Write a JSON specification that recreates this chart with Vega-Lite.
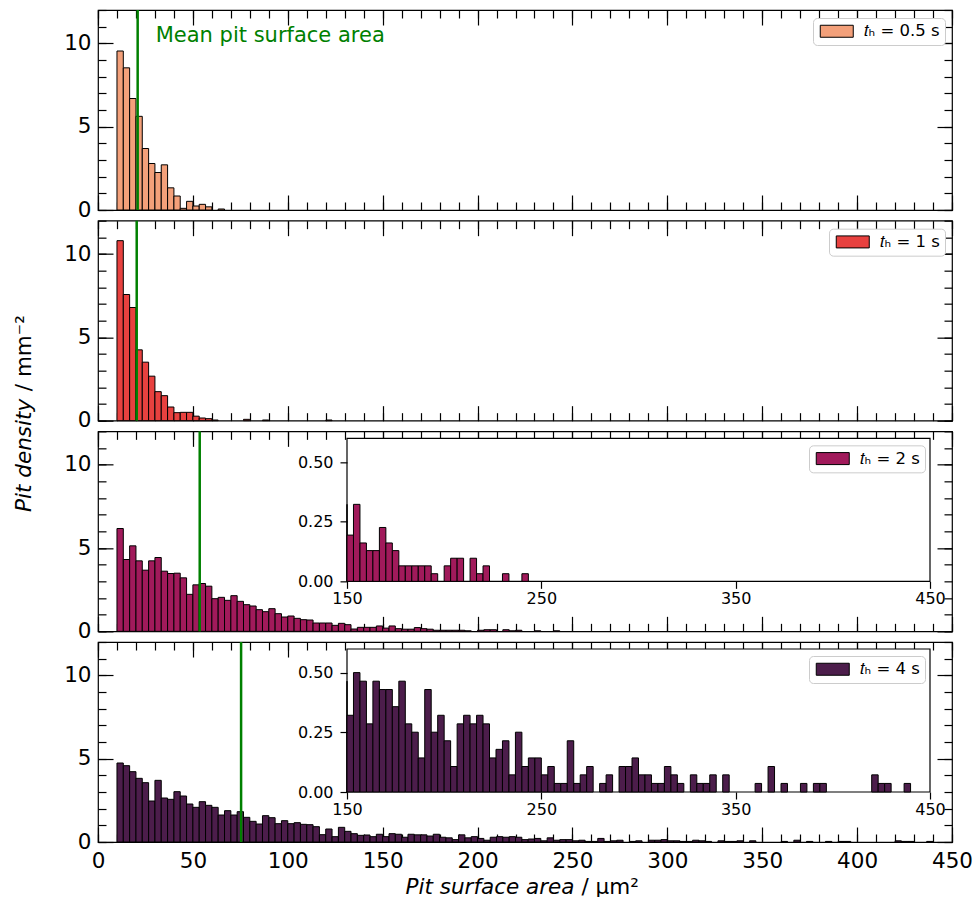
{
"$schema": "https://vega.github.io/schema/vega-lite/v6.json",
"background": "white",
"padding": {"left": 13, "top": 8, "right": 5, "bottom": 5},
"bounds": "flush",
"spacing": 10.67,
"config": {
 "font": "DejaVu Sans",
 "view": {"stroke": "black", "strokeWidth": 1.2},
 "axis": {"domain": false, "grid": false, "labelFlush": false, "tickColor": "black", "tickWidth": 1.2, "labelFontSize": 21.5, "labelColor": "black", "labelFont": "DejaVu Sans", "titleFont": "DejaVu Sans", "titleFontSize": 21.5, "titleColor": "black", "titleFontWeight": "normal", "minExtent": 0, "zindex": 0},
 "legend": {"orient": "top-right", "offset": 7.5, "symbolType": "M-1,-1H4.5V1H-1Z", "symbolSize": 144, "symbolStrokeColor": "black", "symbolStrokeWidth": 1, "labelFontSize": 16.5, "labelOffset": 29, "labelColor": "black", "labelFont": "DejaVu Sans", "padding": 5, "strokeColor": "#cccccc", "fillColor": "white", "cornerRadius": 4, "zindex": 3, "labelLimit": 0}
},
"datasets": {
 "p1": [
  {"start":10,"end":13.33,"density":9.54},{"start":13.33,"end":16.67,"density":8.53},{"start":16.67,"end":20,"density":6.69},{"start":20,"end":23.33,"density":5.62},{"start":23.33,"end":26.67,"density":3.69},{"start":26.67,"end":30,"density":2.79},{"start":30,"end":33.33,"density":2.25},{"start":33.33,"end":36.67,"density":2.71},{"start":36.67,"end":40,"density":1.33},{"start":40,"end":43.33,"density":0.84},{"start":43.33,"end":46.67,"density":0.1},{"start":46.67,"end":50,"density":0.52},{"start":50,"end":53.33,"density":0.24},{"start":53.33,"end":56.67,"density":0.34},{"start":56.67,"end":60,"density":0.19},{"start":63.33,"end":66.67,"density":0.06}
 ],
 "p2": [
  {"start":10,"end":13.33,"density":10.8},{"start":13.33,"end":16.67,"density":7.57},{"start":16.67,"end":20,"density":6.79},{"start":20,"end":23.33,"density":4.25},{"start":23.33,"end":26.67,"density":3.51},{"start":26.67,"end":30,"density":2.67},{"start":30,"end":33.33,"density":1.74},{"start":33.33,"end":36.67,"density":1.5},{"start":36.67,"end":40,"density":0.82},{"start":40,"end":43.33,"density":0.48},{"start":43.33,"end":46.67,"density":0.5},{"start":46.67,"end":50,"density":0.5},{"start":50,"end":53.33,"density":0.27},{"start":53.33,"end":56.67,"density":0.16},{"start":56.67,"end":60,"density":0.12},{"start":60,"end":63.33,"density":0.04},{"start":76.67,"end":80,"density":0.08},{"start":86.67,"end":90,"density":0.04},{"start":120,"end":123.33,"density":0.04}
 ],
 "p3": [
  {"start":10,"end":13.33,"density":6.17},{"start":13.33,"end":16.67,"density":4.31},{"start":16.67,"end":20,"density":5.13},{"start":20,"end":23.33,"density":4.23},{"start":23.33,"end":26.67,"density":3.67},{"start":26.67,"end":30,"density":4.23},{"start":30,"end":33.33,"density":4.43},{"start":33.33,"end":36.67,"density":3.61},{"start":36.67,"end":40,"density":3.47},{"start":40,"end":43.33,"density":3.49},{"start":43.33,"end":46.67,"density":3.21},{"start":46.67,"end":50,"density":2.22},{"start":50,"end":53.33,"density":2.79},{"start":53.33,"end":56.67,"density":2.87},{"start":56.67,"end":60,"density":2.71},{"start":60,"end":63.33,"density":1.96},{"start":63.33,"end":66.67,"density":2.04},{"start":66.67,"end":70,"density":1.86},{"start":70,"end":73.33,"density":2.14},{"start":73.33,"end":76.67,"density":1.8},{"start":76.67,"end":80,"density":1.6},{"start":80,"end":83.33,"density":1.52},{"start":83.33,"end":86.67,"density":1.3},{"start":86.67,"end":90,"density":1.18},{"start":90,"end":93.33,"density":1.36},{"start":93.33,"end":96.67,"density":1.06},{"start":96.67,"end":100,"density":0.86},{"start":100,"end":103.33,"density":0.92},{"start":103.33,"end":106.67,"density":0.78},{"start":106.67,"end":110,"density":0.7},{"start":110,"end":113.33,"density":0.68},{"start":113.33,"end":116.67,"density":0.5},{"start":116.67,"end":120,"density":0.5},{"start":120,"end":123.33,"density":0.5},{"start":123.33,"end":126.67,"density":0.36},{"start":126.67,"end":130,"density":0.48},{"start":130,"end":133.33,"density":0.4},{"start":133.33,"end":136.67,"density":0.14},{"start":136.67,"end":140,"density":0.24},{"start":140,"end":143.33,"density":0.24},{"start":143.33,"end":146.67,"density":0.24},
  {"start":146.67,"end":150,"density":0.323},{"start":150,"end":153.33,"density":0.194},{"start":153.33,"end":156.67,"density":0.323},{"start":156.67,"end":160,"density":0.161},{"start":160,"end":163.33,"density":0.129},{"start":163.33,"end":166.67,"density":0.129},{"start":166.67,"end":170,"density":0.226},{"start":170,"end":173.33,"density":0.161},{"start":173.33,"end":176.67,"density":0.129},{"start":176.67,"end":180,"density":0.065},{"start":180,"end":183.33,"density":0.065},{"start":183.33,"end":186.67,"density":0.065},{"start":186.67,"end":190,"density":0.065},{"start":190,"end":193.33,"density":0.065},{"start":193.33,"end":196.67,"density":0.032},{"start":200,"end":203.33,"density":0.065},{"start":203.33,"end":206.67,"density":0.097},{"start":206.67,"end":210,"density":0.097},{"start":213.33,"end":216.67,"density":0.097},{"start":216.67,"end":220,"density":0.032},{"start":220,"end":223.33,"density":0.065},{"start":230,"end":233.33,"density":0.032},{"start":240,"end":243.33,"density":0.032}
 ],
 "p4": [
  {"start":10,"end":13.33,"density":4.74},{"start":13.33,"end":16.67,"density":4.58},{"start":16.67,"end":20,"density":4.22},{"start":20,"end":23.33,"density":3.82},{"start":23.33,"end":26.67,"density":3.56},{"start":26.67,"end":30,"density":2.46},{"start":30,"end":33.33,"density":3.7},{"start":33.33,"end":36.67,"density":2.64},{"start":36.67,"end":40,"density":2.56},{"start":40,"end":43.33,"density":3.02},{"start":43.33,"end":46.67,"density":2.76},{"start":46.67,"end":50,"density":2.28},{"start":50,"end":53.33,"density":2.08},{"start":53.33,"end":56.67,"density":2.42},{"start":56.67,"end":60,"density":2.2},{"start":60,"end":63.33,"density":2.08},{"start":63.33,"end":66.67,"density":1.62},{"start":66.67,"end":70,"density":1.88},{"start":70,"end":73.33,"density":1.62},{"start":73.33,"end":76.67,"density":1.82},{"start":76.67,"end":80,"density":1.48},{"start":80,"end":83.33,"density":1.24},{"start":83.33,"end":86.67,"density":1.08},{"start":86.67,"end":90,"density":1.58},{"start":90,"end":93.33,"density":1.46},{"start":93.33,"end":96.67,"density":1.1},{"start":96.67,"end":100,"density":1.28},{"start":100,"end":103.33,"density":1.1},{"start":103.33,"end":106.67,"density":1.16},{"start":106.67,"end":110,"density":1.06},{"start":110,"end":113.33,"density":1.04},{"start":113.33,"end":116.67,"density":0.92},{"start":116.67,"end":120,"density":0.44},{"start":120,"end":123.33,"density":0.78},{"start":123.33,"end":126.67,"density":0.32},{"start":126.67,"end":130,"density":0.88},{"start":130,"end":133.33,"density":0.64},{"start":133.33,"end":136.67,"density":0.5},{"start":136.67,"end":140,"density":0.4},{"start":140,"end":143.33,"density":0.42},{"start":143.33,"end":146.67,"density":0.32},
  {"start":146.67,"end":150,"density":0.465},{"start":150,"end":153.33,"density":0.322},{"start":153.33,"end":156.67,"density":0.501},{"start":156.67,"end":160,"density":0.465},{"start":160,"end":163.33,"density":0.286},{"start":163.33,"end":166.67,"density":0.465},{"start":166.67,"end":170,"density":0.43},{"start":170,"end":173.33,"density":0.43},{"start":173.33,"end":176.67,"density":0.358},{"start":176.67,"end":180,"density":0.465},{"start":180,"end":183.33,"density":0.286},{"start":183.33,"end":186.67,"density":0.251},{"start":186.67,"end":190,"density":0.143},{"start":190,"end":193.33,"density":0.43},{"start":193.33,"end":196.67,"density":0.251},{"start":196.67,"end":200,"density":0.322},{"start":200,"end":203.33,"density":0.215},{"start":203.33,"end":206.67,"density":0.107},{"start":206.67,"end":210,"density":0.286},{"start":210,"end":213.33,"density":0.322},{"start":213.33,"end":216.67,"density":0.286},{"start":216.67,"end":220,"density":0.322},{"start":220,"end":223.33,"density":0.286},{"start":223.33,"end":226.67,"density":0.143},{"start":226.67,"end":230,"density":0.179},{"start":230,"end":233.33,"density":0.215},{"start":233.33,"end":236.67,"density":0.072},{"start":236.67,"end":240,"density":0.251},{"start":240,"end":243.33,"density":0.107},{"start":243.33,"end":246.67,"density":0.143},{"start":246.67,"end":250,"density":0.143},{"start":250,"end":253.33,"density":0.072},{"start":253.33,"end":256.67,"density":0.107},{"start":256.67,"end":260,"density":0.036},{"start":260,"end":263.33,"density":0.036},{"start":263.33,"end":266.67,"density":0.215},{"start":266.67,"end":270,"density":0.036},{"start":270,"end":273.33,"density":0.072},{"start":273.33,"end":276.67,"density":0.107},{"start":280,"end":283.33,"density":0.036},{"start":283.33,"end":286.67,"density":0.072},{"start":290,"end":293.33,"density":0.107},{"start":293.33,"end":296.67,"density":0.107},{"start":296.67,"end":300,"density":0.143},{"start":300,"end":303.33,"density":0.072},{"start":303.33,"end":306.67,"density":0.072},{"start":306.67,"end":310,"density":0.036},{"start":310,"end":313.33,"density":0.036},{"start":313.33,"end":316.67,"density":0.107},{"start":316.67,"end":320,"density":0.072},{"start":320,"end":323.33,"density":0.036},{"start":326.67,"end":330,"density":0.072},{"start":330,"end":333.33,"density":0.036},{"start":333.33,"end":336.67,"density":0.036},{"start":336.67,"end":340,"density":0.072},{"start":343.33,"end":346.67,"density":0.072},{"start":360,"end":363.33,"density":0.036},{"start":366.67,"end":370,"density":0.107},{"start":373.33,"end":376.67,"density":0.036},{"start":383.33,"end":386.67,"density":0.036},{"start":390,"end":393.33,"density":0.036},{"start":393.33,"end":396.67,"density":0.036},{"start":420,"end":423.33,"density":0.072},{"start":423.33,"end":426.67,"density":0.036},{"start":426.67,"end":430,"density":0.036},{"start":436.67,"end":440,"density":0.036}
 ]
},
"resolve": {"scale": {"color": "independent"}, "legend": {"color": "independent"}},
"vconcat": [
 {
  "width": 854, "height": 200,
  "data": {"name": "p1"},
  "resolve": {"scale": {"x": "independent", "y": "independent"}, "axis": {"x": "independent", "y": "independent"}},
  "layer": [
   {"mark": {"type": "bar", "stroke": "black", "strokeWidth": 1},
    "encoding": {
     "x": {"field": "start", "type": "quantitative", "scale": {"domain": [0,450], "nice": false, "zero": false}, "axis": {"orient": "bottom", "values": [0,50,100,150,200,250,300,350,400,450], "tickSize": -15, "labels": false, "title": null}},
     "x2": {"field": "end"},
     "y": {"field": "density", "type": "quantitative", "scale": {"domain": [0,12], "nice": false}, "axis": {"orient": "left", "values": [0,5,10], "tickSize": -15, "labelPadding": 22, "title": null}},
     "y2": {"datum": 0},
     "color": {"datum": "𝑡ₕ = 0.5 s", "type": "nominal", "scale": {"range": ["#F3A07A"]}, "legend": {"title": null}}
    }},
   {"mark": {"type": "point", "opacity": 0},
    "encoding": {
     "x": {"field": "start", "type": "quantitative", "scale": {"domain": [0,450], "nice": false, "zero": false}, "axis": {"orient": "bottom", "values": [0,10,20,30,40,50,60,70,80,90,100,110,120,130,140,150,160,170,180,190,200,210,220,230,240,250,260,270,280,290,300,310,320,330,340,350,360,370,380,390,400,410,420,430,440,450], "tickSize": -8, "labels": false, "title": null}},
     "y": {"field": "density", "type": "quantitative", "scale": {"domain": [0,12], "nice": false}, "axis": {"orient": "left", "values": [0,1,2,3,4,5,6,7,8,9,10,11,12], "tickSize": -8, "labels": false, "title": null}}
    }},
   {"mark": {"type": "point", "opacity": 0},
    "encoding": {
     "x": {"field": "start", "type": "quantitative", "scale": {"domain": [0,450], "nice": false, "zero": false}, "axis": {"orient": "top", "values": [0,50,100,150,200,250,300,350,400,450], "tickSize": -15, "labels": false, "title": null}},
     "y": {"field": "density", "type": "quantitative", "scale": {"domain": [0,12], "nice": false}, "axis": {"orient": "right", "values": [0,5,10], "tickSize": -15, "labels": false, "title": null}}
    }},
   {"mark": {"type": "point", "opacity": 0},
    "encoding": {
     "x": {"field": "start", "type": "quantitative", "scale": {"domain": [0,450], "nice": false, "zero": false}, "axis": {"orient": "top", "values": [0,10,20,30,40,50,60,70,80,90,100,110,120,130,140,150,160,170,180,190,200,210,220,230,240,250,260,270,280,290,300,310,320,330,340,350,360,370,380,390,400,410,420,430,440,450], "tickSize": -8, "labels": false, "title": null}},
     "y": {"field": "density", "type": "quantitative", "scale": {"domain": [0,12], "nice": false}, "axis": {"orient": "right", "values": [0,1,2,3,4,5,6,7,8,9,10,11,12], "tickSize": -8, "labels": false, "title": null}}
    }},
   {"data": {"values": [{}]}, "mark": {"type": "rule", "color": "#008000", "strokeWidth": 2.5},
    "encoding": {"x": {"datum": 20.9, "type": "quantitative", "scale": {"domain": [0,450], "nice": false, "zero": false}, "axis": null}}},
   {"data": {"values": [{}]}, "mark": {"type": "text", "align": "left", "baseline": "middle", "fontSize": 21, "color": "#008000", "text": "Mean pit surface area"},
    "encoding": {"x": {"datum": 30.4, "type": "quantitative", "scale": {"domain": [0,450], "nice": false, "zero": false}, "axis": null},
                 "y": {"datum": 10.45, "type": "quantitative", "scale": {"domain": [0,12], "nice": false}, "axis": null}}}
  ]
 },
 {
  "width": 854, "height": 200,
  "data": {"name": "p2"},
  "resolve": {"scale": {"x": "independent", "y": "independent"}, "axis": {"x": "independent", "y": "independent"}},
  "layer": [
   {"mark": {"type": "bar", "stroke": "black", "strokeWidth": 1},
    "encoding": {
     "x": {"field": "start", "type": "quantitative", "scale": {"domain": [0,450], "nice": false, "zero": false}, "axis": {"orient": "bottom", "values": [0,50,100,150,200,250,300,350,400,450], "tickSize": -15, "labels": false, "title": null}},
     "x2": {"field": "end"},
     "y": {"field": "density", "type": "quantitative", "scale": {"domain": [0,12], "nice": false}, "axis": {"orient": "left", "values": [0,5,10], "tickSize": -15, "labelPadding": 22, "title": "/ mm⁻²", "titleAlign": "left", "titleY": 170, "titlePadding": 28}},
     "y2": {"datum": 0},
     "color": {"datum": "𝑡ₕ = 1 s", "type": "nominal", "scale": {"range": ["#E8413F"]}, "legend": {"title": null}}
    }},
   {"mark": {"type": "point", "opacity": 0},
    "encoding": {
     "x": {"field": "start", "type": "quantitative", "scale": {"domain": [0,450], "nice": false, "zero": false}, "axis": {"orient": "bottom", "values": [0,10,20,30,40,50,60,70,80,90,100,110,120,130,140,150,160,170,180,190,200,210,220,230,240,250,260,270,280,290,300,310,320,330,340,350,360,370,380,390,400,410,420,430,440,450], "tickSize": -8, "labels": false, "title": null}},
     "y": {"field": "density", "type": "quantitative", "scale": {"domain": [0,12], "nice": false}, "axis": {"orient": "left", "values": [0,1,2,3,4,5,6,7,8,9,10,11,12], "tickSize": -8, "labels": false, "title": null}}
    }},
   {"mark": {"type": "point", "opacity": 0},
    "encoding": {
     "x": {"field": "start", "type": "quantitative", "scale": {"domain": [0,450], "nice": false, "zero": false}, "axis": {"orient": "top", "values": [0,50,100,150,200,250,300,350,400,450], "tickSize": -15, "labels": false, "title": null}},
     "y": {"field": "density", "type": "quantitative", "scale": {"domain": [0,12], "nice": false}, "axis": {"orient": "right", "values": [0,5,10], "tickSize": -15, "labels": false, "title": null}}
    }},
   {"mark": {"type": "point", "opacity": 0},
    "encoding": {
     "x": {"field": "start", "type": "quantitative", "scale": {"domain": [0,450], "nice": false, "zero": false}, "axis": {"orient": "top", "values": [0,10,20,30,40,50,60,70,80,90,100,110,120,130,140,150,160,170,180,190,200,210,220,230,240,250,260,270,280,290,300,310,320,330,340,350,360,370,380,390,400,410,420,430,440,450], "tickSize": -8, "labels": false, "title": null}},
     "y": {"field": "density", "type": "quantitative", "scale": {"domain": [0,12], "nice": false}, "axis": {"orient": "right", "values": [0,1,2,3,4,5,6,7,8,9,10,11,12], "tickSize": -8, "labels": false, "title": null}}
    }},
   {"data": {"values": [{}]}, "mark": {"type": "rule", "color": "#008000", "strokeWidth": 2.5},
    "encoding": {"x": {"datum": 20.4, "type": "quantitative", "scale": {"domain": [0,450], "nice": false, "zero": false}, "axis": null}}}
  ]
 },
 {
  "width": 854, "height": 200,
  "data": {"name": "p3"},
  "resolve": {"scale": {"x": "independent", "y": "independent"}, "axis": {"x": "independent", "y": "independent"}},
  "layer": [
   {"mark": {"type": "bar", "stroke": "black", "strokeWidth": 1},
    "encoding": {
     "x": {"field": "start", "type": "quantitative", "scale": {"domain": [0,450], "nice": false, "zero": false}, "axis": {"orient": "bottom", "values": [0,50,100,150,200,250,300,350,400,450], "tickSize": -15, "labels": false, "title": null}},
     "x2": {"field": "end"},
     "y": {"field": "density", "type": "quantitative", "scale": {"domain": [0,12], "nice": false}, "axis": {"orient": "left", "values": [0,5,10], "tickSize": -15, "labelPadding": 22, "title": "Pit density", "titleFontStyle": "italic", "titleAlign": "right", "titleY": -33, "titlePadding": 28}},
     "y2": {"datum": 0},
     "color": {"datum": "𝑡ₕ = 2 s", "type": "nominal", "scale": {"range": ["#A11A5B"]}, "legend": {"title": null, "orient": "none", "legendX": 711, "legendY": 14}}
    }},
   {"mark": {"type": "point", "opacity": 0},
    "encoding": {
     "x": {"field": "start", "type": "quantitative", "scale": {"domain": [0,450], "nice": false, "zero": false}, "axis": {"orient": "bottom", "values": [0,10,20,30,40,50,60,70,80,90,100,110,120,130,140,150,160,170,180,190,200,210,220,230,240,250,260,270,280,290,300,310,320,330,340,350,360,370,380,390,400,410,420,430,440,450], "tickSize": -8, "labels": false, "title": null}},
     "y": {"field": "density", "type": "quantitative", "scale": {"domain": [0,12], "nice": false}, "axis": {"orient": "left", "values": [0,1,2,3,4,5,6,7,8,9,10,11,12], "tickSize": -8, "labels": false, "title": null}}
    }},
   {"mark": {"type": "point", "opacity": 0},
    "encoding": {
     "x": {"field": "start", "type": "quantitative", "scale": {"domain": [0,450], "nice": false, "zero": false}, "axis": {"orient": "top", "values": [0,50,100,150,200,250,300,350,400,450], "tickSize": -15, "labels": false, "title": null}},
     "y": {"field": "density", "type": "quantitative", "scale": {"domain": [0,12], "nice": false}, "axis": {"orient": "right", "values": [0,5,10], "tickSize": -15, "labels": false, "title": null}}
    }},
   {"mark": {"type": "point", "opacity": 0},
    "encoding": {
     "x": {"field": "start", "type": "quantitative", "scale": {"domain": [0,450], "nice": false, "zero": false}, "axis": {"orient": "top", "values": [0,10,20,30,40,50,60,70,80,90,100,110,120,130,140,150,160,170,180,190,200,210,220,230,240,250,260,270,280,290,300,310,320,330,340,350,360,370,380,390,400,410,420,430,440,450], "tickSize": -8, "labels": false, "title": null}},
     "y": {"field": "density", "type": "quantitative", "scale": {"domain": [0,12], "nice": false}, "axis": {"orient": "right", "values": [0,1,2,3,4,5,6,7,8,9,10,11,12], "tickSize": -8, "labels": false, "title": null}}
    }},
   {"data": {"values": [{}]}, "mark": {"type": "rule", "color": "#008000", "strokeWidth": 2.5},
    "encoding": {"x": {"datum": 53.6, "type": "quantitative", "scale": {"domain": [0,450], "nice": false, "zero": false}, "axis": null}}},
   {"data": {"values": [{}]}, "mark": {"type": "rect", "fill": "white", "stroke": "black", "strokeWidth": 1.2},
    "encoding": {
     "x": {"datum": 150, "type": "quantitative", "scale": {"domain": [150,450], "range": [249,832], "nice": false, "zero": false, "clamp": true}, "axis": {"orient": "bottom", "offset": -50, "values": [150,250,350,450], "tickSize": 7, "labelFontSize": 16, "labelPadding": 2.5, "title": null, "zindex": 1}},
     "x2": {"datum": 450},
     "y": {"datum": 0, "type": "quantitative", "scale": {"domain": [0,0.6], "range": [150,7], "nice": false}, "axis": {"orient": "left", "offset": -249, "values": [0,0.25,0.5], "format": ".2f", "tickSize": 7, "labelFontSize": 16, "labelPadding": 7, "title": null, "zindex": 1}},
     "y2": {"datum": 0.6}
    }},
   {"transform": [{"filter": "datum.start >= 146"}],
    "mark": {"type": "bar", "fill": "#A11A5B", "stroke": "black", "strokeWidth": 1},
    "encoding": {
     "x": {"field": "start", "type": "quantitative", "scale": {"domain": [150,450], "range": [249,832], "nice": false, "zero": false, "clamp": true}, "axis": null},
     "x2": {"field": "end"},
     "y": {"field": "density", "type": "quantitative", "scale": {"domain": [0,0.6], "range": [150,7], "nice": false}, "axis": null},
     "y2": {"datum": 0}
    }}
  ]
 },
 {
  "width": 854, "height": 200,
  "data": {"name": "p4"},
  "resolve": {"scale": {"x": "independent", "y": "independent"}, "axis": {"x": "independent", "y": "independent"}},
  "layer": [
   {"mark": {"type": "bar", "stroke": "black", "strokeWidth": 1},
    "encoding": {
     "x": {"field": "start", "type": "quantitative", "scale": {"domain": [0,450], "nice": false, "zero": false}, "axis": {"orient": "bottom", "values": [0,50,100,150,200,250,300,350,400,450], "tickSize": -15, "labelPadding": 23, "title": "Pit surface area", "titleFontStyle": "italic", "titleAlign": "right", "titleBaseline": "alphabetic", "titleX": 476, "titleY": 51}},
     "x2": {"field": "end"},
     "y": {"field": "density", "type": "quantitative", "scale": {"domain": [0,12], "nice": false}, "axis": {"orient": "left", "values": [0,5,10], "tickSize": -15, "labelPadding": 22, "title": null}},
     "y2": {"datum": 0},
     "color": {"datum": "𝑡ₕ = 4 s", "type": "nominal", "scale": {"range": ["#4C1D4B"]}, "legend": {"title": null, "orient": "none", "legendX": 711, "legendY": 14}}
    }},
   {"mark": {"type": "point", "opacity": 0},
    "encoding": {
     "x": {"field": "start", "type": "quantitative", "scale": {"domain": [0,450], "nice": false, "zero": false}, "axis": {"orient": "bottom", "values": [0,10,20,30,40,50,60,70,80,90,100,110,120,130,140,150,160,170,180,190,200,210,220,230,240,250,260,270,280,290,300,310,320,330,340,350,360,370,380,390,400,410,420,430,440,450], "tickSize": -8, "labels": false, "title": "/ μm²", "titleAlign": "left", "titleBaseline": "alphabetic", "titleX": 483, "titleY": 51}},
     "y": {"field": "density", "type": "quantitative", "scale": {"domain": [0,12], "nice": false}, "axis": {"orient": "left", "values": [0,1,2,3,4,5,6,7,8,9,10,11,12], "tickSize": -8, "labels": false, "title": null}}
    }},
   {"mark": {"type": "point", "opacity": 0},
    "encoding": {
     "x": {"field": "start", "type": "quantitative", "scale": {"domain": [0,450], "nice": false, "zero": false}, "axis": {"orient": "top", "values": [0,50,100,150,200,250,300,350,400,450], "tickSize": -15, "labels": false, "title": null}},
     "y": {"field": "density", "type": "quantitative", "scale": {"domain": [0,12], "nice": false}, "axis": {"orient": "right", "values": [0,5,10], "tickSize": -15, "labels": false, "title": null}}
    }},
   {"mark": {"type": "point", "opacity": 0},
    "encoding": {
     "x": {"field": "start", "type": "quantitative", "scale": {"domain": [0,450], "nice": false, "zero": false}, "axis": {"orient": "top", "values": [0,10,20,30,40,50,60,70,80,90,100,110,120,130,140,150,160,170,180,190,200,210,220,230,240,250,260,270,280,290,300,310,320,330,340,350,360,370,380,390,400,410,420,430,440,450], "tickSize": -8, "labels": false, "title": null}},
     "y": {"field": "density", "type": "quantitative", "scale": {"domain": [0,12], "nice": false}, "axis": {"orient": "right", "values": [0,1,2,3,4,5,6,7,8,9,10,11,12], "tickSize": -8, "labels": false, "title": null}}
    }},
   {"data": {"values": [{}]}, "mark": {"type": "rule", "color": "#008000", "strokeWidth": 2.5},
    "encoding": {"x": {"datum": 75.4, "type": "quantitative", "scale": {"domain": [0,450], "nice": false, "zero": false}, "axis": null}}},
   {"data": {"values": [{}]}, "mark": {"type": "rect", "fill": "white", "stroke": "black", "strokeWidth": 1.2},
    "encoding": {
     "x": {"datum": 150, "type": "quantitative", "scale": {"domain": [150,450], "range": [249,832], "nice": false, "zero": false, "clamp": true}, "axis": {"orient": "bottom", "offset": -50, "values": [150,250,350,450], "tickSize": 7, "labelFontSize": 16, "labelPadding": 2.5, "title": null, "zindex": 1}},
     "x2": {"datum": 450},
     "y": {"datum": 0, "type": "quantitative", "scale": {"domain": [0,0.6], "range": [150,7], "nice": false}, "axis": {"orient": "left", "offset": -249, "values": [0,0.25,0.5], "format": ".2f", "tickSize": 7, "labelFontSize": 16, "labelPadding": 7, "title": null, "zindex": 1}},
     "y2": {"datum": 0.6}
    }},
   {"transform": [{"filter": "datum.start >= 146"}],
    "mark": {"type": "bar", "fill": "#4C1D4B", "stroke": "black", "strokeWidth": 1},
    "encoding": {
     "x": {"field": "start", "type": "quantitative", "scale": {"domain": [150,450], "range": [249,832], "nice": false, "zero": false, "clamp": true}, "axis": null},
     "x2": {"field": "end"},
     "y": {"field": "density", "type": "quantitative", "scale": {"domain": [0,0.6], "range": [150,7], "nice": false}, "axis": null},
     "y2": {"datum": 0}
    }}
  ]
 }
]
}
